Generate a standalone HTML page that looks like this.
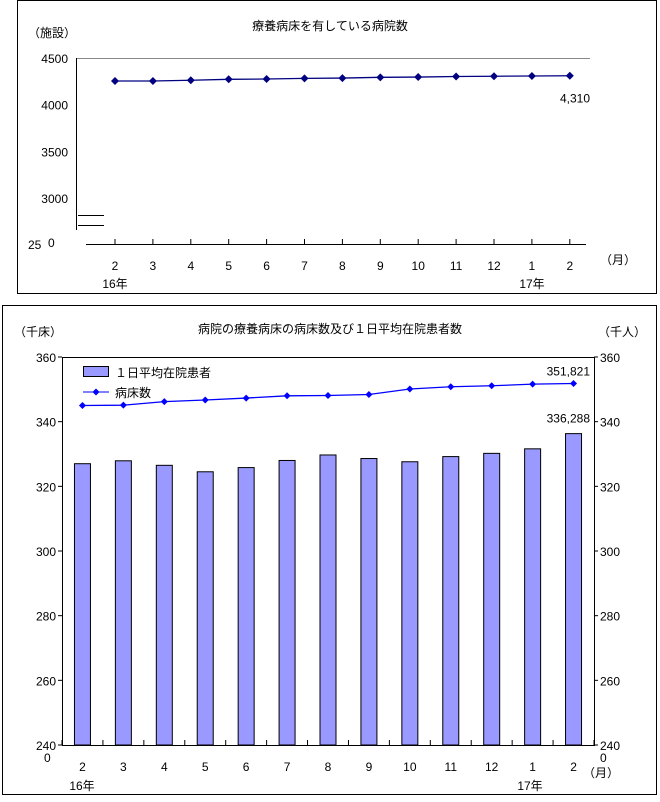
<!DOCTYPE html>
<html><head><meta charset="utf-8"><style>
body{margin:0;background:#fff;}
svg text{font-family:"Liberation Sans","Noto Sans CJK JP",sans-serif;font-size:12px;fill:#000;}
</style></head><body>
<svg width="660" height="797" viewBox="0 0 660 797" xmlns="http://www.w3.org/2000/svg">
<rect x="17.5" y="0.5" width="639" height="293" fill="#fff" stroke="#000"/>
<text x="330" y="30" text-anchor="middle" font-size="13">療養病床を有している病院数</text>
<text x="28" y="37">（施設）</text>
<g id="top"></g>
<rect x="2.5" y="305.5" width="654" height="489" fill="#fff" stroke="#000"/>
<text x="330" y="333" text-anchor="middle" font-size="13">病院の療養病床の病床数及び１日平均在院患者数</text>
<text x="14" y="336">（千床）</text>
<text x="598" y="336">（千人）</text>
<g id="bot"></g>
</svg>
<script>
const topMonths=["2","3","4","5","6","7","8","9","10","11","12","1","2"];
const topValues=[4254,4254,4262,4272,4275,4282,4285,4293,4296,4302,4305,4307,4310];
const topTicks=[3000,3500,4000,4500];
const botMonths=["2","3","4","5","6","7","8","9","10","11","12","1","2"];
const patients=[327.0,327.9,326.5,324.5,325.8,328.0,329.7,328.6,327.6,329.2,330.2,331.6,336.3];
const beds=[345.0,345.1,346.2,346.7,347.3,348.0,348.1,348.4,350.1,350.8,351.1,351.6,351.8];
const botTicks=[240,260,280,300,320,340,360];
const NS="http://www.w3.org/2000/svg";
function mk(parent,tag,attrs,txt){const e=document.createElementNS(NS,tag);for(const k in attrs)e.setAttribute(k,attrs[k]);if(txt!==undefined)e.textContent=txt;parent.appendChild(e);return e;}
// top chart
const T=document.getElementById('top');
const ty=v=>58+(4500-v)*46.7/500;
const tx=i=>115+i*37.9;
let e;
e=mk(T,'line',{x1:76,y1:58.5,x2:590,y2:58.5,stroke:'#888'});


e=mk(T,'line',{x1:76.5,y1:58,x2:76.5,y2:230,stroke:'#000'});


mk(T,'line',{x1:78,y1:215.5,x2:104,y2:215.5,stroke:'#000'});
mk(T,'line',{x1:78,y1:225.5,x2:104,y2:225.5,stroke:'#000'});
e=mk(T,'line',{x1:86,y1:244.5,x2:586,y2:244.5,stroke:'#000'});


topTicks.forEach(t=>{e=mk(T,'text',{x:68,y:ty(t)+5,'text-anchor':'end'},String(t));

});
e=mk(T,'text',{x:28,y:249},'25');


mk(T,'text',{x:48,y:247},'0');
topMonths.forEach((m,i)=>{mk(T,'line',{x1:tx(i),y1:239,x2:tx(i),y2:244,stroke:'#000'});
e=mk(T,'text',{x:tx(i),y:270,'text-anchor':'middle'},m);

});
mk(T,'text',{x:115,y:288,'text-anchor':'middle'},'16年');
mk(T,'text',{x:532,y:288,'text-anchor':'middle'},'17年');
mk(T,'text',{x:600,y:264},'（月）');
e=mk(T,'polyline',{points:topValues.map((v,i)=>tx(i)+','+ty(v)).join(' '),fill:'none',stroke:'#000080','stroke-width':1.3});


topValues.forEach((v,i)=>{e=mk(T,'polygon',{points:`${tx(i)},${ty(v)-4} ${tx(i)+4},${ty(v)} ${tx(i)},${ty(v)+4} ${tx(i)-4},${ty(v)}`,fill:'#000080'});

});
mk(T,'text',{x:575,y:ty(topValues[12])+27,'text-anchor':'middle'},topValues[12].toLocaleString('en-US'));
// bottom chart
const B=document.getElementById('bot');
const L=62,R=594,Y0=745;
const by=v=>Y0-(v-240)*(745-357)/120;
const cw=(R-L)/13;
const bx=i=>L+cw*(i+0.5);
e=mk(B,'rect',{x:L+0.5,y:357.5,width:R-L,height:Y0-357,fill:'#fff',stroke:'#000'});


botTicks.forEach(t=>{mk(B,'line',{x1:L-4,y1:by(t),x2:L,y2:by(t),stroke:'#000'});mk(B,'line',{x1:R,y1:by(t),x2:R+4,y2:by(t),stroke:'#000'});
e=mk(B,'text',{x:L-6,y:by(t)+5,'text-anchor':'end'},String(t));


e=mk(B,'text',{x:R+6,y:by(t)+5},String(t));

});
mk(B,'text',{x:44,y:762},'0');mk(B,'text',{x:600,y:762},'0');
for(let i=0;i<=13;i++)mk(B,'line',{x1:L+cw*i,y1:Y0-5,x2:L+cw*i,y2:Y0,stroke:'#000'});
patients.forEach((v,i)=>{e=mk(B,'rect',{x:bx(i)-8,y:by(v),width:16,height:Y0-by(v),fill:'#9999ff',stroke:'#000'});

});
botMonths.forEach((m,i)=>{e=mk(B,'text',{x:bx(i),y:771,'text-anchor':'middle'},m);

});
mk(B,'text',{x:82,y:790,'text-anchor':'middle'},'16年');
mk(B,'text',{x:530,y:790,'text-anchor':'middle'},'17年');
mk(B,'text',{x:583,y:777},'（月）');
e=mk(B,'polyline',{points:beds.map((v,i)=>bx(i)+','+by(v)).join(' '),fill:'none',stroke:'#0000ff','stroke-width':1.3});


beds.forEach((v,i)=>{e=mk(B,'polygon',{points:`${bx(i)},${by(v)-3.5} ${bx(i)+3.5},${by(v)} ${bx(i)},${by(v)+3.5} ${bx(i)-3.5},${by(v)}`,fill:'#0000ff'});

});
mk(B,'text',{x:R-4,y:by(beds[12])-8,'text-anchor':'end'},'351,821');
mk(B,'text',{x:R-4,y:by(patients[12])-11,'text-anchor':'end'},'336,288');
// legend
e=mk(B,'rect',{x:83.5,y:366.5,width:25,height:10,fill:'#9999ff',stroke:'#000'});


e=mk(B,'text',{x:115,y:377},'１日平均在院患者');


mk(B,'line',{x1:83,y1:392,x2:109,y2:392,stroke:'#0000ff'});
mk(B,'polygon',{points:'96,388.5 99.5,392 96,395.5 92.5,392',fill:'#0000ff'});
e=mk(B,'text',{x:115,y:397},'病床数');


</script>
</body></html>
